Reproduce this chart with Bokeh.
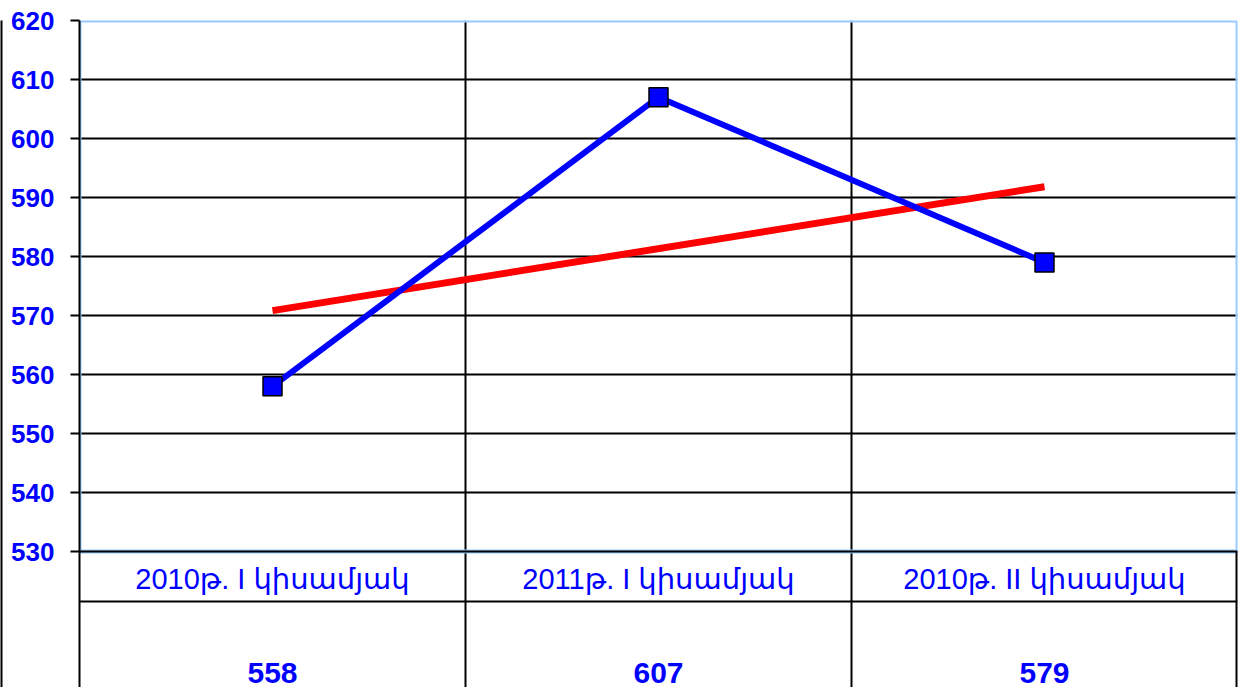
from bokeh.plotting import figure
from bokeh.models import Range1d, FixedTicker, ColumnDataSource, LinearAxis
from bokeh.core.properties import value
from bokeh.embed import file_html
from bokeh.resources import INLINE
import numpy as np

# ---- data ----
categories = ["2010թ. I կիսամյակ", "2011թ. I կիսամյակ", "2010թ. II կիսամյակ"]
values = [558, 607, 579]
y_ticks = [530, 540, 550, 560, 570, 580, 590, 600, 610, 620]

xs = list(range(1, len(categories) + 1))
coef = np.polyfit(xs, values, 1)
trend = [coef[0] * x + coef[1] for x in xs]

BLUE = "#0000FF"
FONT = "Liberation Sans, Arial, DejaVu Sans"

W, H = 1242, 687
top_border = 20
px_per_unit = (551 - 20) / 90.0
y_top = 620
y_bottom = y_top - (H - top_border) / px_per_unit

p = figure(width=W, height=H, output_backend="svg", toolbar_location=None,
           x_range=Range1d(0.5, 3.5), y_range=Range1d(y_bottom, y_top),
           min_border_top=top_border, min_border_bottom=0,
           min_border_left=79, min_border_right=5)
p.outline_line_color = None
p.background_fill_color = "white"
p.border_fill_color = "white"

# axes
p.xaxis.visible = False
yax = p.yaxis[0]
yax.ticker = FixedTicker(ticks=y_ticks)
yax.axis_line_color = "black"
yax.axis_line_width = 2
yax.major_tick_line_color = "black"
yax.major_tick_line_width = 2
yax.major_tick_out = 9
yax.major_tick_in = 0
yax.minor_tick_line_color = None
yax.major_label_standoff = 16
yax.major_label_text_font = FONT
yax.major_label_text_font_style = "bold"
yax.major_label_text_font_size = "26px"
yax.major_label_text_color = BLUE
yax.axis_label = " "
yax.axis_label_text_font_size = "3px"
yax.axis_label_standoff = 0

# outer chart-area border line on the left
edge = LinearAxis(ticker=FixedTicker(ticks=[]), axis_line_color="black", axis_line_width=2,
                  major_tick_line_color=None, minor_tick_line_color=None,
                  major_label_text_font_size="0px", major_tick_out=0, major_tick_in=0)
p.add_layout(edge, "left")

# grids
p.ygrid.ticker = FixedTicker(ticks=y_ticks)
p.ygrid.grid_line_color = "black"
p.ygrid.grid_line_width = 2
p.xgrid.ticker = FixedTicker(ticks=[1.5, 2.5])
p.xgrid.grid_line_color = "black"
p.xgrid.grid_line_width = 2

# plot-area border (light blue)
p.quad(left=[0.5], right=[3.5], bottom=[530], top=[620], fill_alpha=0,
       line_color="#99CCFF", line_width=4)
# data-table lines
row_y = 530 - (601 - 551) / px_per_unit
p.segment(x0=[0.5], x1=[3.5], y0=[row_y], y1=[row_y], line_color="black", line_width=2)
p.segment(x0=[0.5], x1=[3.5], y0=[530], y1=[530], line_color="black", line_width=2)
p.segment(x0=[3.5], x1=[3.5], y0=[y_bottom], y1=[530], line_color="black", line_width=4)

# trend line
p.line([xs[0], xs[-1]], [trend[0], trend[-1]], line_color="#FF0000", line_width=7)

# series
src = ColumnDataSource(dict(x=xs, y=values))
p.line("x", "y", source=src, line_color=BLUE, line_width=6)
p.scatter("x", "y", source=src, marker="square", size=19, fill_color=BLUE,
          line_color="black", line_width=1.5)

# table texts
cat_y = 530 - (578 - 551) / px_per_unit
val_y = 530 - (672 - 551) / px_per_unit
p.text(x=xs, y=[cat_y] * 3, text=categories, text_align="center", text_baseline="middle",
       text_color=BLUE, text_font=value(FONT), text_font_size="29px")
p.text(x=xs, y=[val_y] * 3, text=[str(v) for v in values], text_align="center",
       text_baseline="middle", text_color=BLUE, text_font=value(FONT),
       text_font_size="30px", text_font_style="bold")

open("out.html", "w").write(file_html(p, INLINE))
